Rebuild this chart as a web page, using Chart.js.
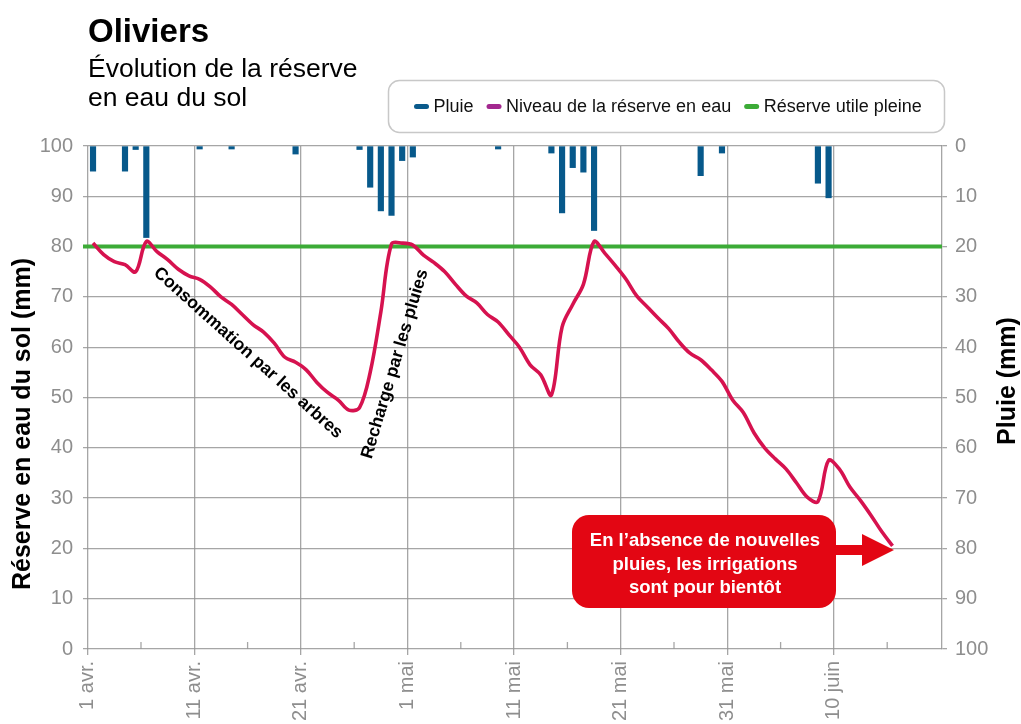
<!DOCTYPE html>
<html lang="fr">
<head>
<meta charset="utf-8">
<title>Oliviers - réserve en eau du sol</title>
<script src="https://cdn.jsdelivr.net/npm/chart.js@4.4.1/dist/chart.umd.min.js"></script>
<style>
  html, body { margin: 0; padding: 0; background: #fff; overflow: hidden; }
  #wrap { position: relative; width: 1021px; height: 724px; }
</style>
</head>
<body>
<div id="wrap"><canvas id="chart" width="1021" height="724"></canvas></div>
<script>
// Jours comptés depuis le 1er avril (0 = 1 avr.)
const tickDays = [0, 10, 20, 30, 40, 50, 60, 70];
const tickLabels = ['1 avr.', '11 avr.', '21 avr.', '1 mai', '11 mai', '21 mai', '31 mai', '10 juin'];

// Pluie (mm) - seulement les jours de pluie
const rainDays = [0, 3, 4, 5, 10, 13, 19, 25, 26, 27, 28, 29, 30, 38, 43, 44, 45, 46, 47, 57, 59, 68, 69];
const rainMm   = [5, 5, 0.7, 18.2, 0.6, 0.6, 1.6, 0.7, 8.2, 12.9, 13.8, 2.9, 2.2, 0.6, 1.4, 13.3, 4.3, 5.2, 16.8, 5.9, 1.4, 7.4, 10.3];

// Niveau de la réserve en eau (mm), un point par jour du 1 avr. au 15 juin
const reserve = [
  80.7, 78.4, 77, 76.4, 75, 81, 79, 77.4, 75.5, 74.2,
  73.5, 72, 70, 68.5, 66.5, 64.5, 63, 60.8, 58, 57,
  55.5, 53, 51, 49.5, 47.5, 48, 55, 67, 80.5, 80.7,
  80.3, 78.3, 76.8, 75, 72.5, 70.2, 68.8, 66.5, 65, 62.5,
  60, 56.5, 54.5, 50.5, 64, 68.5, 72.5, 81, 78.7, 76.2,
  73.5, 70.2, 68, 65.8, 63.7, 61, 58.8, 57.5, 55.5, 53.2,
  49.5, 47, 43, 40, 37.8, 35.8, 33, 30.2, 29.3, 37.5,
  35.8, 32.2, 29.5, 26.5, 23.3, 20.5
];

// Réserve utile pleine (mm)
const fullReserve = 80;

const X_MIN = -0.44;
const X_MAX = 80.14;

const FONT = "'Liberation Sans', Arial, Helvetica, sans-serif";
const GRID = 'rgba(150, 150, 150, 0.85)';
const TICK_COLOR = '#8e8e8e';

/**
 * Textes, légende, titres d'axes et annotations
 */
const decorations = {
    id: 'decorations',
    beforeDatasetsDraw(chart) {
        // petites graduations intermédiaires sur l'axe des dates
        const ctx = chart.ctx;
        const xs = chart.scales.x;
        const bottom = chart.chartArea.bottom;
        ctx.save();
        ctx.strokeStyle = GRID;
        ctx.lineWidth = 1.3;
        tickDays.forEach(d => {
            const px = xs.getPixelForValue(d + 5);
            ctx.beginPath();
            ctx.moveTo(px, bottom - 7);
            ctx.lineTo(px, bottom);
            ctx.stroke();
        });
        ctx.restore();
    },
    afterDraw(chart) {
        const ctx = chart.ctx;
        ctx.save();

        // Titre
        ctx.fillStyle = '#000';
        ctx.textAlign = 'left';
        ctx.textBaseline = 'alphabetic';
        ctx.font = `bold 33px ${FONT}`;
        ctx.fillText('Oliviers', 88, 42);
        ctx.font = `26.5px ${FONT}`;
        ctx.fillText('Évolution de la réserve', 88, 77);
        ctx.fillText('en eau du sol', 88, 106);

        // Légende dans un cadre arrondi
        ctx.strokeStyle = '#c8c8c8';
        ctx.lineWidth = 1.5;
        ctx.beginPath();
        ctx.roundRect(388.5, 80.5, 556, 52, 11);
        ctx.stroke();
        ctx.font = `18px ${FONT}`;
        ctx.textBaseline = 'middle';
        let cx = 414;
        chart.data.datasets.forEach(ds => {
            ctx.fillStyle = ds.legendColor;
            ctx.beginPath();
            ctx.roundRect(cx, 104, 15, 5, 2.5);
            ctx.fill();
            cx += 19.5;
            ctx.fillStyle = '#111';
            ctx.fillText(ds.label, cx, 107);
            cx += ctx.measureText(ds.label).width + 13;
        });

        // Titres des axes
        ctx.fillStyle = '#000';
        ctx.font = `bold 25px ${FONT}`;
        ctx.textAlign = 'center';
        ctx.save();
        ctx.translate(23, 424);
        ctx.rotate(-Math.PI / 2);
        ctx.fillText('Réserve en eau du sol (mm)', 0, 0);
        ctx.restore();
        ctx.save();
        ctx.translate(1008, 381);
        ctx.rotate(-Math.PI / 2);
        ctx.fillText('Pluie (mm)', 0, 0);
        ctx.restore();

        // Annotations sur la courbe
        ctx.font = `bold 17.5px ${FONT}`;
        ctx.save();
        ctx.translate(248, 353);
        ctx.rotate(Math.atan2(175, 195));
        ctx.fillText('Consommation par les arbres', 0, 0);
        ctx.restore();
        ctx.save();
        ctx.translate(395, 364);
        ctx.rotate(Math.atan2(-190, 57));
        ctx.fillText('Recharge par les pluies', 0, 0);
        ctx.restore();

        // Encadré rouge + flèche
        ctx.fillStyle = '#e30613';
        ctx.beginPath();
        ctx.roundRect(572, 515, 264, 93, 17);
        ctx.fill();
        ctx.fillRect(830, 545, 34, 10);
        ctx.beginPath();
        ctx.moveTo(862, 534);
        ctx.lineTo(894, 550);
        ctx.lineTo(862, 566);
        ctx.closePath();
        ctx.fill();
        ctx.fillStyle = '#fff';
        ctx.font = `bold 18.5px ${FONT}`;
        ['En l\u2019absence de nouvelles', 'pluies, les irrigations', 'sont pour bientôt']
            .forEach((t, i) => ctx.fillText(t, 705, 541 + i * 23.5));

        ctx.restore();
    }
};

document.addEventListener('DOMContentLoaded', function() {
    const ctx = document.getElementById('chart').getContext('2d');

    new Chart(ctx, {
        data: {
            datasets: [{
                type: 'bar',
                label: 'Pluie',
                legendColor: '#0a5a8b',
                data: rainDays.map((d, i) => ({ x: d + 0.5, y: rainMm[i] })),
                backgroundColor: '#07598b',
                barThickness: 5.5,
                yAxisID: 'y1',
                order: 3
            }, {
                type: 'line',
                label: 'Niveau de la réserve en eau',
                legendColor: '#a3288f',
                data: reserve.map((v, i) => ({ x: i + 0.5, y: v })),
                borderColor: '#d6124f',
                borderWidth: 3.6,
                pointRadius: 0,
                tension: 0.35,
                yAxisID: 'y',
                order: 1
            }, {
                type: 'line',
                label: 'Réserve utile pleine',
                legendColor: '#3cab37',
                data: [{ x: X_MIN, y: fullReserve }, { x: X_MAX, y: fullReserve }],
                borderColor: '#3cab37',
                borderWidth: 4,
                pointRadius: 0,
                yAxisID: 'y',
                order: 2
            }]
        },
        options: {
            responsive: false,
            devicePixelRatio: 1,
            animation: false,
            layout: { padding: { top: 146, left: 0, right: 0, bottom: 0 } },
            plugins: {
                legend: { display: false },
                tooltip: { enabled: false }
            },
            scales: {
                x: {
                    type: 'linear',
                    min: X_MIN,
                    max: X_MAX,
                    offset: false,
                    afterBuildTicks: s => { s.ticks = tickDays.map(v => ({ value: v })); },
                    afterFit: s => { s.height = 75; },
                    ticks: {
                        callback: v => tickLabels[tickDays.indexOf(v)],
                        minRotation: 90,
                        maxRotation: 90,
                        color: TICK_COLOR,
                        padding: 6,
                        font: { family: FONT, size: 20 }
                    },
                    grid: { color: GRID, lineWidth: 1.3, tickLength: 6, offset: false },
                    border: { display: false }
                },
                y: {
                    position: 'left',
                    min: 0,
                    max: 100,
                    afterFit: s => { s.width = 83; },
                    ticks: {
                        stepSize: 10,
                        color: TICK_COLOR,
                        padding: 10,
                        font: { family: FONT, size: 20 }
                    },
                    grid: { color: GRID, lineWidth: 1.3, drawTicks: false },
                    border: { display: false }
                },
                y1: {
                    position: 'right',
                    min: 0,
                    max: 100,
                    reverse: true,
                    afterFit: s => { s.width = 79; },
                    ticks: {
                        stepSize: 10,
                        color: TICK_COLOR,
                        padding: 8,
                        font: { family: FONT, size: 20 }
                    },
                    grid: { color: GRID, lineWidth: 1.3, drawOnChartArea: false, tickLength: 5 },
                    border: { display: true, color: GRID, width: 1.3 }
                }
            }
        },
        plugins: [decorations]
    });
});
</script>
</body>
</html>
